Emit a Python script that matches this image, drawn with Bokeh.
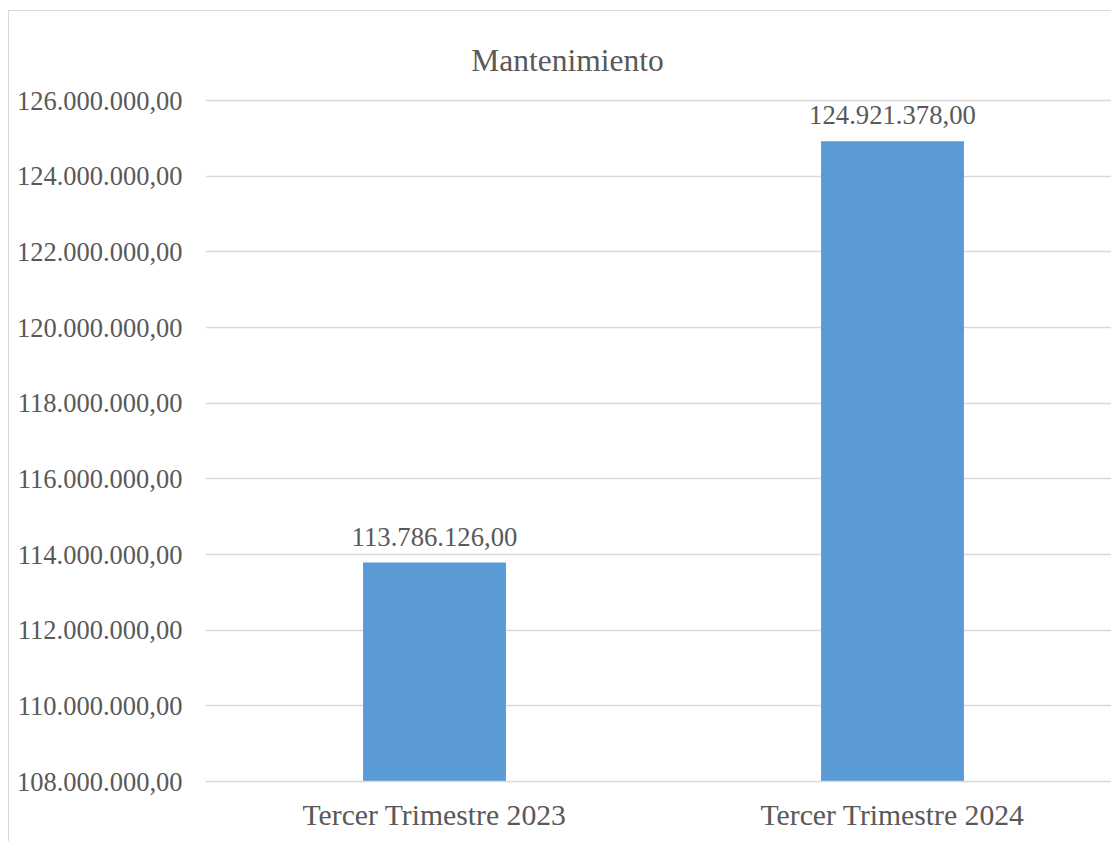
from bokeh.plotting import figure
from bokeh.models import (ColumnDataSource, Range1d, FixedTicker, CustomJSTickFormatter,
                          LabelSet, Label)
from bokeh.embed import file_html
from bokeh.resources import INLINE

title_text = "Mantenimiento"
categories = ["Tercer Trimestre 2023", "Tercer Trimestre 2024"]
values = [113786126.00, 124921378.00]
y_min = 108_000_000
y_max = 126_000_000
y_step = 2_000_000

FONT = "Liberation Serif"
TXT = "#595959"
GRID = "#d9d9d9"
BAR = "#5B9BD5"

# layout: the plot frame reaches the top of the canvas so the title sits inside it
CANVAS_H = 831
BORDER_BOTTOM = 61
AXIS_PX = 681  # pixels between y_min and y_max gridlines
frame_h = CANVAS_H - BORDER_BOTTOM
y_end = y_min + (y_max - y_min) * frame_h / AXIS_PX


def fmt(v):
    s = f"{v:,.2f}"
    return s.replace(",", "X").replace(".", ",").replace("X", ".")


src = ColumnDataSource(dict(
    x=list(range(len(categories))),
    top=values,
    label=[fmt(v) for v in values],
))

p = figure(width=1103, height=CANVAS_H, output_backend="svg", toolbar_location=None,
           x_range=Range1d(-0.5, 1.4803), y_range=Range1d(y_min, y_end),
           min_border_left=196, min_border_right=0, min_border_top=0,
           min_border_bottom=BORDER_BOTTOM, tools="")
p.title.visible = False
p.styles = {"border-left": "1px solid #d9d9d9", "border-top": "1px solid #d9d9d9",
            "margin-left": "8px", "margin-top": "10px"}
p.outline_line_color = None
p.background_fill_color = "white"
p.border_fill_color = "white"

p.vbar(x="x", top="top", bottom=y_min, width=0.312, source=src,
       fill_color=BAR, line_color=None)

# y axis
p.yaxis.ticker = FixedTicker(ticks=list(range(y_min, y_max + 1, y_step)))
p.yaxis.formatter = CustomJSTickFormatter(code="""
var s = Math.round(tick).toString();
s = s.replace(/\\B(?=(\\d{3})+(?!\\d))/g, ".");
return s + ",00";
""")
p.yaxis.axis_line_color = None
p.yaxis.major_tick_line_color = None
p.yaxis.minor_tick_line_color = None
p.yaxis.major_tick_out = 0
p.yaxis.major_tick_in = 0
p.yaxis.major_label_standoff = 23
p.yaxis.major_label_text_font = FONT
p.yaxis.major_label_text_font_size = "26.5px"
p.yaxis.major_label_text_color = TXT

# x axis
p.xaxis.ticker = FixedTicker(ticks=list(range(len(categories))))
p.xaxis.major_label_overrides = {i: c for i, c in enumerate(categories)}
p.xaxis.axis_line_color = GRID
p.xaxis.axis_line_width = 1.5
p.xaxis.major_tick_line_color = None
p.xaxis.minor_tick_line_color = None
p.xaxis.major_tick_out = 0
p.xaxis.major_tick_in = 0
p.xaxis.major_label_standoff = 17
p.xaxis.major_label_text_font = FONT
p.xaxis.major_label_text_font_size = "29.7px"
p.xaxis.major_label_text_color = TXT

p.xgrid.grid_line_color = None
p.ygrid.grid_line_color = GRID
p.ygrid.grid_line_width = 1.5

labels = LabelSet(x="x", y="top", text="label", source=src, y_offset=17,
                  text_align="center", text_baseline="alphabetic",
                  text_font=FONT, text_font_size="26.7px", text_color=TXT)
p.add_layout(labels)

# chart title, centred over the whole chart area
title = Label(x=0.2904, y=y_max, y_offset=40, text=title_text,
              text_align="center", text_baseline="alphabetic",
              text_font=FONT, text_font_size="31.5px", text_color=TXT)
p.add_layout(title)

open("out.html", "w").write(file_html(p, INLINE))
